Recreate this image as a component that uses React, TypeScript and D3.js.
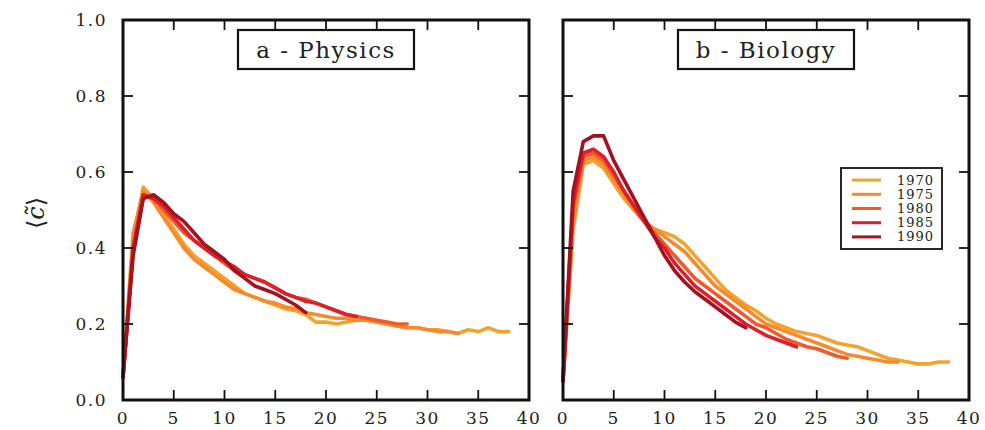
import React from 'react';
import * as d3 from 'd3';

// cohort years and their colours
const years = ['1970', '1975', '1980', '1985', '1990'];
const colors = ['#f2a32c', '#f58a2e', '#ee5a2e', '#dd1f2c', '#a3121f'];

// panel titles
const panels = ['a - Physics', 'b - Biology'];

const xTicks = [0, 5, 10, 15, 20, 25, 30, 35, 40];
const yTicks = [0.0, 0.2, 0.4, 0.6, 0.8, 1.0];

// <c~> per year since publication, Physics
const physics1970 = [0.06, 0.42, 0.56, 0.53, 0.49, 0.45, 0.41, 0.38, 0.36, 0.34, 0.32, 0.3, 0.28, 0.27, 0.26, 0.25, 0.24, 0.235, 0.225, 0.205, 0.205, 0.2, 0.205, 0.21, 0.21, 0.205, 0.2, 0.195, 0.19, 0.19, 0.185, 0.185, 0.18, 0.175, 0.185, 0.18, 0.19, 0.18, 0.18];
const physics1975 = [0.06, 0.44, 0.55, 0.52, 0.48, 0.44, 0.4, 0.37, 0.35, 0.33, 0.31, 0.29, 0.28, 0.27, 0.26, 0.255, 0.245, 0.24, 0.23, 0.225, 0.22, 0.215, 0.215, 0.21, 0.21, 0.205, 0.2, 0.195, 0.19, 0.19, 0.185, 0.18, 0.18, 0.175];
const physics1980 = [0.06, 0.4, 0.54, 0.53, 0.5, 0.47, 0.44, 0.42, 0.4, 0.38, 0.36, 0.34, 0.33, 0.32, 0.31, 0.295, 0.28, 0.27, 0.265, 0.255, 0.245, 0.235, 0.225, 0.22, 0.215, 0.21, 0.205, 0.2, 0.2];
const physics1985 = [0.06, 0.4, 0.54, 0.53, 0.51, 0.48, 0.45, 0.42, 0.4, 0.38, 0.365, 0.35, 0.33, 0.32, 0.31, 0.295, 0.28, 0.27, 0.26, 0.255, 0.245, 0.235, 0.225, 0.22];
const physics1990 = [0.06, 0.38, 0.53, 0.54, 0.52, 0.49, 0.47, 0.44, 0.41, 0.39, 0.37, 0.34, 0.32, 0.3, 0.29, 0.28, 0.265, 0.25, 0.23];

// same for Biology
const biology1970 = [0.05, 0.45, 0.62, 0.63, 0.61, 0.57, 0.53, 0.5, 0.47, 0.45, 0.44, 0.43, 0.41, 0.38, 0.35, 0.32, 0.29, 0.27, 0.25, 0.235, 0.215, 0.2, 0.19, 0.18, 0.175, 0.17, 0.16, 0.15, 0.145, 0.14, 0.13, 0.12, 0.11, 0.105, 0.1, 0.095, 0.095, 0.1, 0.1];
const biology1975 = [0.05, 0.47, 0.63, 0.64, 0.62, 0.58, 0.54, 0.5, 0.47, 0.45, 0.43, 0.41, 0.39, 0.36, 0.33, 0.3, 0.28, 0.26, 0.24, 0.22, 0.2, 0.19, 0.18, 0.17, 0.16, 0.15, 0.14, 0.13, 0.12, 0.115, 0.11, 0.105, 0.1, 0.1];
const biology1980 = [0.05, 0.5, 0.64, 0.65, 0.63, 0.59, 0.55, 0.51, 0.47, 0.44, 0.41, 0.38, 0.35, 0.32, 0.3, 0.28, 0.26, 0.24, 0.22, 0.2, 0.19, 0.175, 0.16, 0.15, 0.14, 0.135, 0.125, 0.115, 0.11];
const biology1985 = [0.05, 0.52, 0.65, 0.66, 0.64, 0.6, 0.55, 0.51, 0.47, 0.43, 0.4, 0.36, 0.33, 0.3, 0.28, 0.26, 0.24, 0.22, 0.2, 0.185, 0.17, 0.16, 0.15, 0.14];
const biology1990 = [0.05, 0.55, 0.68, 0.695, 0.695, 0.63, 0.58, 0.53, 0.48, 0.43, 0.38, 0.34, 0.31, 0.285, 0.265, 0.245, 0.225, 0.205, 0.19];

const panelSeries = [
  [physics1970, physics1975, physics1980, physics1985, physics1990],
  [biology1970, biology1975, biology1980, biology1985, biology1990],
];

const width = 985;
const height = 430;
const top = 20;
const bottom = 400;
const panelLeft = [123, 563];
const panelWidth = 406;
const font = '"DejaVu Serif", "Liberation Serif", serif';

const Panel = ({ idx }: { idx: number }) => {
  const x0 = panelLeft[idx];
  const x = d3.scaleLinear().domain([0, 40]).range([x0, x0 + panelWidth]);
  const y = d3.scaleLinear().domain([0, 1]).range([bottom, top]);
  const line = d3
    .line<number>()
    .x((d, i) => x(i))
    .y((d) => y(d));
  const tick = 10;
  const title = panels[idx];
  const boxW = 176;
  const boxX = x0 + 203 - boxW / 2;

  return (
    <g>
      <rect x={x0} y={top} width={panelWidth} height={bottom - top} fill="#fff" />
      {panelSeries[idx].map((s, i) => (
        <path
          key={years[i]}
          d={line(s) || ''}
          fill="none"
          stroke={colors[i]}
          strokeWidth={3.6}
          strokeLinejoin="round"
          strokeLinecap="round"
        />
      ))}
      {/* ticks on all four sides, pointing inward */}
      {xTicks.map((t) => (
        <g key={'xt' + t}>
          <line x1={x(t)} x2={x(t)} y1={bottom} y2={bottom - tick} stroke="#111" strokeWidth={1.8} />
          <line x1={x(t)} x2={x(t)} y1={top} y2={top + tick} stroke="#111" strokeWidth={1.8} />
          <text
            x={x(t)}
            y={424}
            textAnchor="middle"
            fontFamily={font}
            fontSize={17}
            letterSpacing={1.5}
            fill="#222"
          >
            {t}
          </text>
        </g>
      ))}
      {yTicks.map((t) => (
        <g key={'yt' + t}>
          <line x1={x0} x2={x0 + tick} y1={y(t)} y2={y(t)} stroke="#111" strokeWidth={1.8} />
          <line x1={x0 + panelWidth} x2={x0 + panelWidth - tick} y1={y(t)} y2={y(t)} stroke="#111" strokeWidth={1.8} />
          {idx === 0 && (
            <text
              x={107}
              y={y(t) + 6}
              textAnchor="end"
              fontFamily={font}
              fontSize={17}
              letterSpacing={1.5}
              fill="#222"
            >
              {t.toFixed(1)}
            </text>
          )}
        </g>
      ))}
      <rect x={x0} y={top} width={panelWidth} height={bottom - top} fill="none" stroke="#111" strokeWidth={3} />
      <rect x={boxX} y={30} width={boxW} height={39} fill="#fff" stroke="#111" strokeWidth={2.2} />
      <text
        x={boxX + boxW / 2}
        y={58}
        textAnchor="middle"
        fontFamily={font}
        fontSize={23}
        letterSpacing={1.5}
        fill="#222"
      >
        {title}
      </text>
    </g>
  );
};

const Legend = () => {
  const lx = 841;
  const ly = 168;
  const rows = d3.scaleBand().domain(years).range([ly + 5, ly + 76]);
  return (
    <g>
      <rect x={lx} y={ly} width={101} height={81} fill="#fff" stroke="#111" strokeWidth={1.8} />
      {years.map((yr, i) => {
        const cy = (rows(yr) || 0) + rows.bandwidth() / 2;
        return (
          <g key={yr}>
            <line x1={lx + 11} x2={lx + 40} y1={cy} y2={cy} stroke={colors[i]} strokeWidth={3} />
            <text x={lx + 56} y={cy + 4.5} fontFamily={font} fontSize={13} letterSpacing={1} fill="#222">
              {yr}
            </text>
          </g>
        );
      })}
    </g>
  );
};

export default function App() {
  return (
    <svg
      width={width}
      height={height}
      style={{ position: 'absolute', left: 0, top: 0, background: '#fff' }}
    >
      <rect width={width} height={height} fill="#fff" />
      <Panel idx={0} />
      <Panel idx={1} />
      <Legend />
      <text
        transform="translate(44,213) rotate(-90)"
        textAnchor="middle"
        fontFamily={font}
        fontSize={24}
        fill="#222"
      >
        ⟨<tspan fontStyle="italic">c̃</tspan>⟩
      </text>
    </svg>
  );
}
